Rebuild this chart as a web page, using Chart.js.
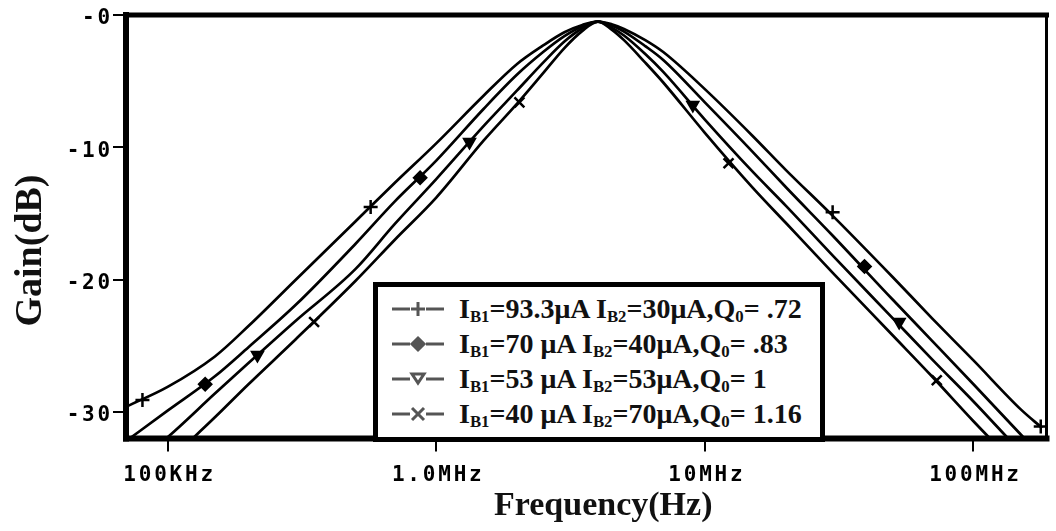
<!DOCTYPE html>
<html>
<head>
<meta charset="utf-8">
<script src="https://cdn.jsdelivr.net/npm/chart.js@4.4.1/dist/chart.umd.min.js"></script>
<style>
body{margin:0;background:#fff;}
#wrap{position:relative;width:1056px;height:531px;}
#legend{position:absolute;left:373px;top:282px;width:452px;height:160px;box-sizing:border-box;border:5px solid #000;background:#fff;padding-top:4px;}
.row{height:35px;display:flex;align-items:center;}
.row svg{margin-left:12px;margin-right:13px;flex:none;}
.txt{font:bold 28px 'Liberation Serif','Times New Roman',serif;color:#111;white-space:pre;line-height:35px;}
.txt sub{font-size:60%;vertical-align:-0.22em;line-height:0;}
</style>
</head>
<body>
<div id="wrap">
  <canvas id="bp" width="1056" height="531"></canvas>
  <div id="legend"></div>
</div>
<script>
// frequency points (Hz) and gain (dB)
var freqHz = [70e3, 100e3, 150e3, 200e3, 300e3, 500e3, 700e3, 1e6, 1.5e6, 2e6, 2.5e6, 3e6, 3.5e6, 4e6,
              4.5e6, 5e6, 6e6, 7e6, 10e6, 15e6, 20e6, 30e6, 50e6, 70e6, 100e6, 150e6, 180e6];
var gainQ072 = [-29.6, -28.1, -25.8, -23.5, -20.0, -15.6, -12.7, -9.7, -6.1, -3.7, -2.3, -1.3, -0.75, -0.5,
                -0.7, -1.05, -1.9, -2.8, -5.6, -9.1, -11.7, -15.2, -19.8, -22.9, -26.1, -29.8, -31.2];
var gainQ083 = [-32.2, -29.9, -27.3, -25.1, -21.9, -17.3, -14.1, -11.0, -7.1, -4.5, -2.8, -1.6, -0.85, -0.5,
                -0.8, -1.25, -2.35, -3.4, -6.6, -10.3, -13.0, -16.7, -21.5, -24.6, -27.9, -31.7, -33.4];
var gainQ1   = [-34.4, -31.9, -28.6, -26.3, -23.1, -19.2, -15.8, -12.4, -8.4, -5.7, -3.6, -2.0, -1.0, -0.5,
                -0.95, -1.55, -2.95, -4.3, -7.9, -11.8, -14.4, -18.2, -22.9, -26.0, -29.2, -33.0, -34.6];
var gainQ116 = [-37.0, -33.8, -30.4, -27.9, -24.5, -20.1, -17.0, -13.8, -9.5, -6.7, -4.4, -2.5, -1.2, -0.5,
                -1.1, -1.9, -3.6, -5.1, -8.9, -13.0, -15.7, -19.5, -24.2, -27.3, -30.7, -34.4, -36.1];

// marker positions on each trace
var markFreq1 = [80.6e3, 570e3, 29.9e6, 178e6];
var markGain1 = [-29.1, -14.5, -14.9, -31.1];
var markFreq2 = [138e3, 871e3, 39.3e6];
var markGain2 = [-27.9, -12.3, -19.0];
var markFreq3 = [216e3, 1.33e6, 9.02e6, 52.9e6];
var markGain3 = [-25.7, -9.6, -6.8, -23.2];
var markFreq4 = [351e3, 2.04e6, 12.25e6, 73e6];
var markGain4 = [-23.2, -6.6, -11.2, -27.6];

// legend text parts
var legIB1 = ['93.3', '70 ', '53 ', '40 '];
var legIB2 = ['30', '40', '53', '70'];
var legQ0  = [' .72', ' .83', ' 1', ' 1.16'];

// axis ticks
var xTickValues = [1e5, 1e6, 1e7, 1e8];
var xTickLabels = ['100KHz', '1.0MHz', '10MHz', '100MHz'];
var yTickValues = [-30, -20, -10, 0];
var yTickLabels = ['-30', '-20', '-10', '-0'];

function pts(xs, ys){
    var out = [];
    for(var i = 0; i < xs.length; i++){
        out.push({x: xs[i], y: ys[i]});
    }
    return out;
}

function curve(gain){
    return {
        data: pts(freqHz, gain),
        borderColor: '#000',
        borderWidth: 2.7,
        pointRadius: 0,
        fill: false,
        cubicInterpolationMode: 'monotone'
    };
}

function marks(xs, ys, style, r, rot){
    return {
        data: pts(xs, ys),
        showLine: false,
        pointStyle: style,
        pointRadius: r,
        pointRotation: rot,
        pointBorderColor: '#000',
        pointBackgroundColor: '#000',
        pointBorderWidth: 2.5
    };
}

// thick frame around the plot
var frame = {
    id: 'frame',
    afterDatasetsDraw: function(chart){
        var ctx = chart.ctx, a = chart.chartArea;
        ctx.save();
        ctx.strokeStyle = '#000';
        ctx.lineCap = 'square';
        function seg(x1, y1, x2, y2, w){
            ctx.lineWidth = w;
            ctx.beginPath();
            ctx.moveTo(x1, y1);
            ctx.lineTo(x2, y2);
            ctx.stroke();
        }
        seg(a.left, a.top, a.right, a.top, 5);
        seg(a.right, a.top, a.right, a.bottom, 3);
        seg(a.left, a.top, a.left, a.bottom, 6);
        seg(a.left, a.bottom, a.right, a.bottom, 6);
        ctx.restore();
    }
};

// wide-spaced tick labels like the original plotter font
var tickSpacing = {
    id: 'tickSpacing',
    beforeDraw: function(chart){
        Object.keys(chart.scales).forEach(function(k){
            var scale = chart.scales[k];
            if(scale._spaced) return;
            var orig = scale.drawLabels;
            scale.drawLabels = function(area){
                this.ctx.save();
                this.ctx.letterSpacing = '2.8px';
                orig.call(this, area);
                this.ctx.restore();
            };
            scale._spaced = true;
        });
    }
};

var tickFont = {family: "'DejaVu Sans Mono', monospace", size: 21, weight: 'bold'};
var xTitleFont = {family: "'Liberation Serif', 'Times New Roman', serif", size: 34, weight: 'bold'};
var yTitleFont = {family: "'Liberation Serif', 'Times New Roman', serif", size: 38, weight: 'bold'};
var nb = '\u00a0';

new Chart(document.getElementById('bp'), {
    type: 'line',
    data: {
        datasets: [
            curve(gainQ072), curve(gainQ083), curve(gainQ1), curve(gainQ116),
            marks(markFreq1, markGain1, 'cross', 7, 0),
            marks(markFreq2, markGain2, 'rectRot', 6, 0),
            marks(markFreq3, markGain3, 'triangle', 6, 180),
            marks(markFreq4, markGain4, 'crossRot', 7, 0)
        ]
    },
    options: {
        responsive: false,
        animation: false,
        layout: {padding: {top: 15, right: 2, left: 0, bottom: 0}},
        plugins: {legend: {display: false}, tooltip: {enabled: false}},
        scales: {
            x: {
                type: 'logarithmic',
                min: 70e3,
                max: 187e6,
                afterBuildTicks: function(scale){
                    scale.ticks = xTickValues.map(function(v){ return {value: v}; });
                },
                afterFit: function(scale){ scale.height = 92.5; },
                border: {display: false},
                grid: {drawOnChartArea: false, drawTicks: true, tickLength: 13, color: '#000', lineWidth: 2},
                ticks: {
                    font: tickFont, color: '#000', padding: 11, maxRotation: 0, labelOffset: 2,
                    callback: function(v, i){ return xTickLabels[i]; }
                },
                title: {
                    display: true, text: nb + nb + nb + nb + 'Frequency(Hz)', font: xTitleFont, color: '#111',
                    padding: {top: 0, bottom: 4}
                }
            },
            y: {
                type: 'linear',
                min: -32,
                max: 0,
                afterBuildTicks: function(scale){
                    scale.ticks = yTickValues.map(function(v){ return {value: v}; });
                },
                afterFit: function(scale){ scale.width = 126; },
                border: {display: false},
                grid: {drawOnChartArea: false, drawTicks: true, tickLength: 13, color: '#000', lineWidth: 2},
                ticks: {
                    font: tickFont, color: '#000', padding: 0, labelOffset: 4,
                    callback: function(v, i){ return yTickLabels[i]; }
                },
                title: {
                    display: true, text: 'Gain(dB)' + nb + nb + nb + nb + nb, font: yTitleFont, color: '#111',
                    padding: {top: 8, bottom: 0}
                }
            }
        }
    },
    plugins: [tickSpacing, frame]
});

// html legend (needs subscripts)
var symbols = [
    '<line x1="28" y1="4" x2="28" y2="18" /><line x1="21" y1="11" x2="35" y2="11" />',
    '<polygon points="28,5 34,11 28,17 22,11" fill="#555" />',
    '<polygon points="22,6 34,6 28,15" fill="#fff" />',
    '<line x1="22" y1="5" x2="34" y2="17" /><line x1="34" y1="5" x2="22" y2="17" />'
];
var html = '';
for(var i = 0; i < legIB1.length; i++){
    html += '<div class="row"><svg width="56" height="22" stroke="#555" stroke-width="3">' +
            '<line x1="2" y1="11" x2="20" y2="11" /><line x1="36" y1="11" x2="54" y2="11" />' +
            symbols[i] + '</svg><span class="txt">I<sub>B1</sub>=' + legIB1[i] + '\u03bcA I<sub>B2</sub>=' +
            legIB2[i] + '\u03bcA,Q<sub>0</sub>=' + legQ0[i] + '</span></div>';
}
document.getElementById('legend').innerHTML = html;
</script>
</body>
</html>
